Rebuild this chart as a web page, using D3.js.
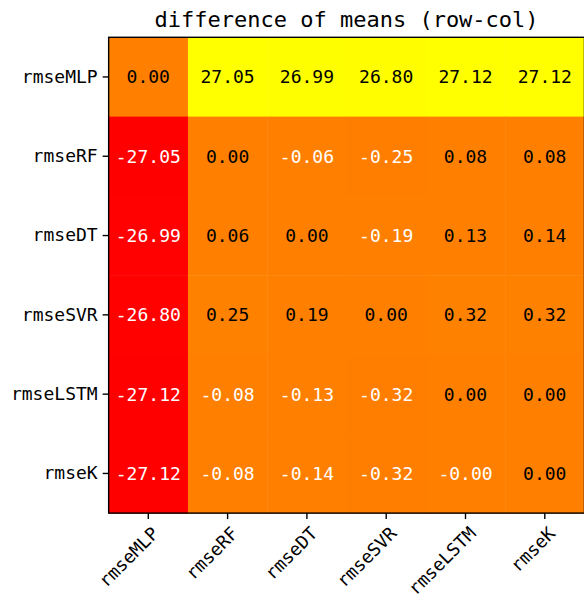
<!DOCTYPE html>
<html>
<head>
<meta charset="utf-8">
<script src="https://cdn.jsdelivr.net/npm/d3@7/dist/d3.min.js"></script>
<style>
  html, body { margin: 0; padding: 0; background: #fff; }
  svg { display: block; }
  text { font-family: "DejaVu Sans Mono", monospace; }
</style>
</head>
<body>
<svg id="chart" width="584" height="594"></svg>
<script>
const rowLabels = ["rmseMLP", "rmseRF", "rmseDT", "rmseSVR", "rmseLSTM", "rmseK"];
const colLabels = ["rmseMLP", "rmseRF", "rmseDT", "rmseSVR", "rmseLSTM", "rmseK"];
const rowMLP  = [0.00, 27.05, 26.99, 26.80, 27.12, 27.12];
const rowRF   = [-27.05, 0.00, -0.06, -0.25, 0.08, 0.08];
const rowDT   = [-26.99, 0.06, 0.00, -0.19, 0.13, 0.14];
const rowSVR  = [-26.80, 0.25, 0.19, 0.00, 0.32, 0.32];
const rowLSTM = [-27.12, -0.08, -0.13, -0.32, 0.00, 0.001];
const rowK    = [-27.12, -0.08, -0.14, -0.32, -0.001, 0.00];
const matrix = [rowMLP, rowRF, rowDT, rowSVR, rowLSTM, rowK];
const title = "difference of means (row-col)";

const mLeft = 108.65, mTop = 37.3, cell = 79.3;
const W = cell * colLabels.length, H = cell * rowLabels.length;

const svg = d3.select("#chart");
const x = d3.scaleBand().domain(colLabels).range([mLeft, mLeft + W]);
const y = d3.scaleBand().domain(rowLabels).range([mTop, mTop + H]);

const flat = [];
matrix.forEach((row, i) => row.forEach((v, j) => flat.push({r: rowLabels[i], c: colLabels[j], v})));
const ext = d3.extent(flat, d => d.v);
const color = d3.scaleLinear().domain([ext[0], ext[1]]).range(["#ff0000", "#ffff00"]);

svg.append("g").selectAll("rect").data(flat).join("rect")
  .attr("x", d => x(d.c)).attr("y", d => y(d.r))
  .attr("width", x.bandwidth() + 0.5).attr("height", y.bandwidth() + 0.5)
  .attr("fill", d => color(d.v));

svg.append("g").selectAll("text").data(flat).join("text")
  .attr("x", d => x(d.c) + x.bandwidth() / 2)
  .attr("y", d => y(d.r) + y.bandwidth() / 2)
  .attr("dy", "0.36em")
  .attr("text-anchor", "middle")
  .attr("font-size", 18)
  .attr("fill", d => d.v < 0 ? "#ffffff" : "#000000")
  .text(d => d.v.toFixed(2));

// axes
const yAxis = d3.axisLeft(y).tickSize(6).tickPadding(5);
const gy = svg.append("g").attr("transform", `translate(${mLeft},0)`).call(yAxis);
gy.select(".domain").remove();
gy.selectAll("line").attr("stroke", "#000").attr("stroke-width", 1.4);
gy.selectAll("text").attr("font-size", 18).attr("fill", "#000")
  .attr("font-family", "DejaVu Sans Mono, monospace");

const xAxis = d3.axisBottom(x).tickSize(6).tickPadding(0);
const gx = svg.append("g").attr("transform", `translate(0,${mTop + H})`).call(xAxis);
gx.select(".domain").remove();
gx.selectAll("line").attr("stroke", "#000").attr("stroke-width", 1.4);
gx.selectAll("text").attr("font-size", 18).attr("fill", "#000")
  .attr("font-family", "DejaVu Sans Mono, monospace")
  .attr("text-anchor", "end")
  .attr("y", null)
  .attr("transform", "translate(7,17) rotate(-45)")
  .attr("dy", "0.36em");

// border
svg.append("rect").attr("x", mLeft).attr("y", mTop).attr("width", W).attr("height", H)
  .attr("fill", "none").attr("stroke", "#000").attr("stroke-width", 1.4);

svg.append("text").attr("x", mLeft + W / 2).attr("y", 27)
  .attr("text-anchor", "middle").attr("font-size", 22).attr("fill", "#000")
  .text(title);
</script>
</body>
</html>
